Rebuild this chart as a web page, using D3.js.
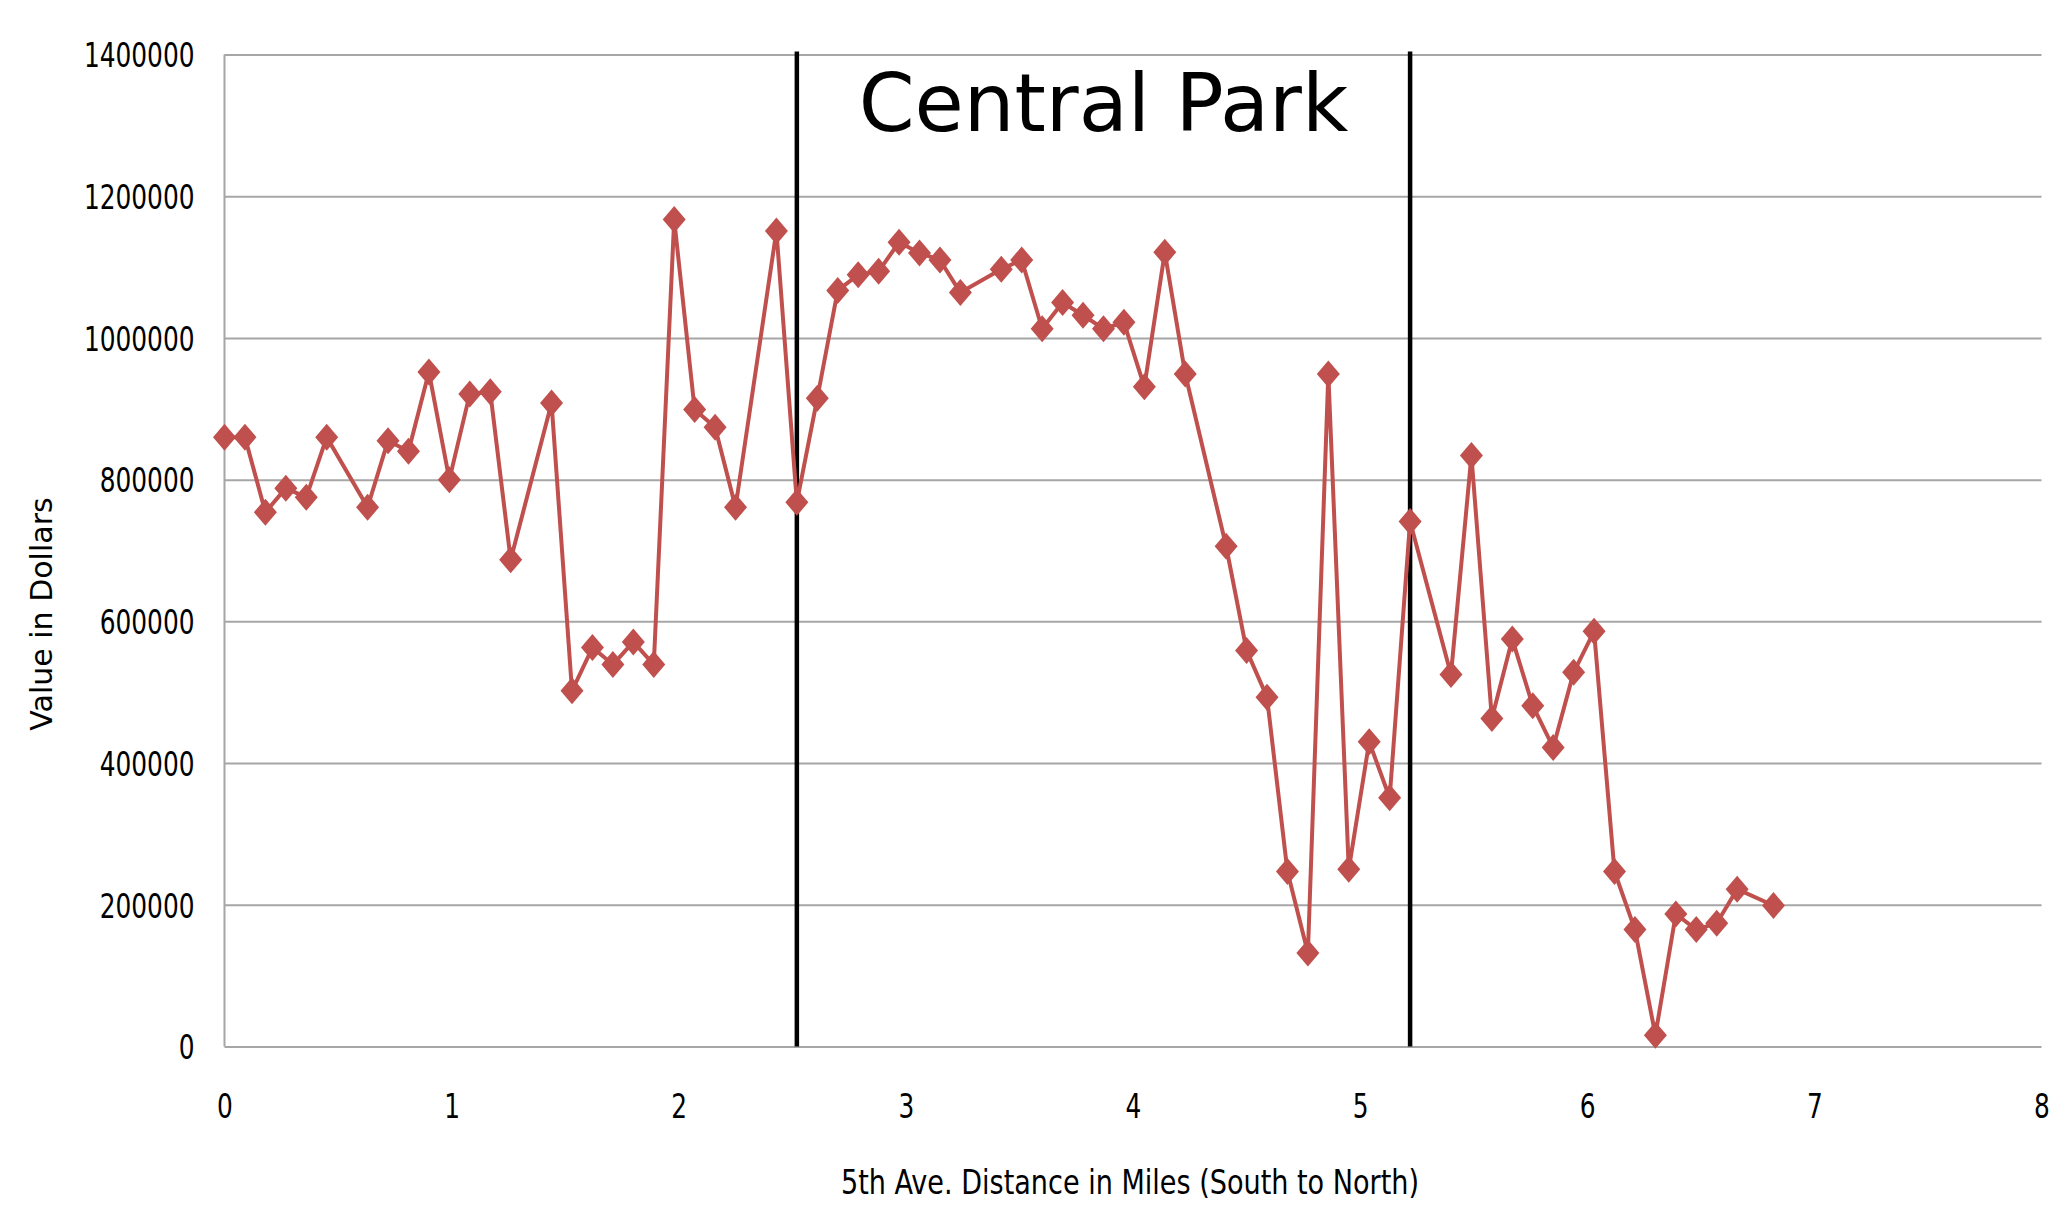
<!DOCTYPE html>
<html>
<head>
<meta charset="utf-8">
<script src="https://cdn.jsdelivr.net/npm/d3@7"></script>
<style>
	body { margin: 0; background: #fff; }
	svg { display: block; }
	.tick text { font-family: 'Liberation Sans Narrow', 'DejaVu Sans Condensed', sans-serif; font-size: 34px; fill: #000; }
</style>
</head>
<body>
<svg id="chart"></svg>
<script>
// distance along 5th Ave. (miles, south to north)
let miles = [0.00, 0.09, 0.18, 0.27, 0.36, 0.45, 0.63, 0.72, 0.81, 0.90,
	0.99, 1.08, 1.17, 1.26, 1.44, 1.53, 1.62, 1.71, 1.80, 1.89,
	1.98, 2.07, 2.16, 2.25, 2.43, 2.52, 2.61, 2.70, 2.79, 2.88,
	2.97, 3.06, 3.15, 3.24, 3.42, 3.51, 3.60, 3.69, 3.78, 3.87,
	3.96, 4.05, 4.14, 4.23, 4.41, 4.50, 4.59, 4.68, 4.77, 4.86,
	4.95, 5.04, 5.13, 5.22, 5.40, 5.49, 5.58, 5.67, 5.76, 5.85,
	5.94, 6.03, 6.12, 6.21, 6.30, 6.39, 6.48, 6.57, 6.66, 6.82];

// value in dollars at each point
let values = [860000, 860000, 754000, 788000, 775000, 860000, 761000, 855000, 840000, 952000,
	800000, 921000, 924000, 687000, 908000, 502000, 563000, 539000, 571000, 539000,
	1167000, 899000, 874000, 761000, 1151000, 768000, 915000, 1067000, 1089000, 1094000,
	1135000, 1120000, 1110000, 1064000, 1097000, 1110000, 1013000, 1050000, 1032000, 1013000,
	1022000, 931000, 1121000, 949000, 706000, 559000, 493000, 247000, 132000, 949000,
	250000, 430000, 351000, 741000, 525000, 834000, 463000, 575000, 481000, 422000,
	528000, 586000, 247000, 165000, 16000, 187000, 165000, 174000, 222000, 199000];

// Central Park edges (miles)
let parkEdges = [2.52, 5.22];

let xTicks = [0, 1, 2, 3, 4, 5, 6, 7, 8];
let yTicks = [0, 200000, 400000, 600000, 800000, 1000000, 1200000, 1400000];

let width = 2056;
let height = 1209;
let margin = { top: 54.5, right: 14.5, bottom: 162.5, left: 224.5 };
let plotW = width - margin.left - margin.right;
let plotH = height - margin.top - margin.bottom;
let charW = 15.8; // narrow digit width of the original font

let svg = d3.select('#chart')
	.attr('width', width)
	.attr('height', height);

let g = svg.append('g')
	.attr('transform', 'translate(' + margin.left + ',' + margin.top + ')');

let x = d3.scaleLinear().domain([0, 8]).range([0, plotW]);
let y = d3.scaleLinear().domain([0, 1400000]).range([plotH, 0]);

// horizontal gridlines + y labels
let yAxis = g.append('g')
	.call(d3.axisLeft(y)
		.tickValues(yTicks)
		.tickFormat(d3.format('d'))
		.tickSize(-plotW)
		.tickPadding(30));
yAxis.select('.domain').remove();
yAxis.selectAll('.tick line')
	.attr('stroke', '#a6a6a6')
	.attr('stroke-width', 2);
yAxis.selectAll('.tick text')
	.attr('dy', '0.36em')
	.attr('textLength', function() { return this.textContent.length * charW; })
	.attr('lengthAdjust', 'spacingAndGlyphs');

// y axis line
g.append('line')
	.attr('x1', 0).attr('x2', 0)
	.attr('y1', 0).attr('y2', plotH)
	.attr('stroke', '#a6a6a6')
	.attr('stroke-width', 2);

// x labels
let xAxis = g.append('g')
	.attr('transform', 'translate(0,' + plotH + ')')
	.call(d3.axisBottom(x)
		.tickValues(xTicks)
		.tickFormat(d3.format('d'))
		.tickSize(0)
		.tickPadding(47));
xAxis.select('.domain').remove();
xAxis.selectAll('.tick text')
	.attr('textLength', charW)
	.attr('lengthAdjust', 'spacingAndGlyphs');

// Central Park boundary lines
g.selectAll('.edge')
	.data(parkEdges)
	.enter()
	.append('line')
	.attr('class', 'edge')
	.attr('x1', d => x(d)).attr('x2', d => x(d))
	.attr('y1', -3).attr('y2', plotH)
	.attr('stroke', '#000')
	.attr('stroke-width', 4.5);

g.append('text')
	.attr('x', x(d3.mean(parkEdges)))
	.attr('y', 131 - margin.top)
	.attr('text-anchor', 'middle')
	.style('font-family', 'DejaVu Sans, sans-serif')
	.style('font-size', '80px')
	.text('Central Park');

// series
let points = miles.map((m, i) => ({ m: m, v: values[i] }));

let line = d3.line()
	.x(d => x(d.m))
	.y(d => y(d.v));

g.append('path')
	.datum(points)
	.attr('d', line)
	.attr('fill', 'none')
	.attr('stroke', '#c0504d')
	.attr('stroke-width', 4)
	.attr('stroke-linejoin', 'round');

// diamond markers
let diamond = 'M0,-13.5L11.5,0L0,13.5L-11.5,0Z';
g.selectAll('.marker')
	.data(points)
	.enter()
	.append('path')
	.attr('class', 'marker')
	.attr('d', diamond)
	.attr('transform', d => 'translate(' + x(d.m) + ',' + y(d.v) + ')')
	.attr('fill', '#c0504d');

// axis titles
svg.append('text')
	.attr('x', 1130)
	.attr('y', 1194)
	.attr('text-anchor', 'middle')
	.attr('textLength', 578)
	.attr('lengthAdjust', 'spacingAndGlyphs')
	.style('font-family', "'Liberation Sans Narrow', 'DejaVu Sans Condensed', sans-serif")
	.style('font-size', '34px')
	.text('5th Ave. Distance in Miles (South to North)');

svg.append('text')
	.attr('transform', 'translate(52,614) rotate(-90)')
	.attr('text-anchor', 'middle')
	.style('font-family', 'DejaVu Sans, sans-serif')
	.style('font-size', '30px')
	.text('Value in Dollars');
</script>
</body>
</html>
